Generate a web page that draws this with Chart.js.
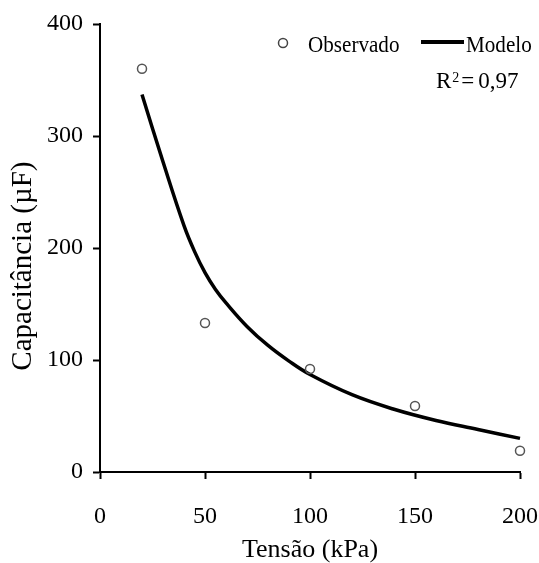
<!DOCTYPE html>
<html>
<head>
<meta charset="utf-8">
<script src="https://cdn.jsdelivr.net/npm/chart.js@4"></script>
<style>
  body { margin: 0; background: #fff; }
  #wrap { width: 539px; height: 563px; }
</style>
</head>
<body>
<div id="wrap"><canvas id="grafico"></canvas></div>
<script>
// valores
var tensaoObs = [20, 50, 100, 150, 200];
var capacitanciaObs = [360, 133, 92, 59, 19];

var tensaoModelo = [20, 30, 40, 45, 50, 55, 60, 70, 80, 90, 100, 120, 140, 160, 180, 200];
var capacitanciaModelo = [337, 277, 220, 197, 178, 163, 151, 130, 113, 99, 87, 69, 56, 46, 38, 30];

var xTicks = [0, 50, 100, 150, 200];
var yTicks = [0, 100, 200, 300, 400];

var serif = "'Liberation Serif', 'Times New Roman', serif";

function pontos(xs, ys) {
  return xs.map(function (x, i) {
    return { x: x, y: ys[i] };
  });
}

// legenda e R2 desenhados no canto superior direito
var legendaPlugin = {
  id: "legenda",
  afterDraw: function (chart) {
    var ctx = chart.ctx;
    ctx.save();
    ctx.fillStyle = "#000";
    ctx.textBaseline = "alphabetic";

    ctx.beginPath();
    ctx.arc(283, 43, 4.5, 0, Math.PI * 2);
    ctx.strokeStyle = "#444";
    ctx.lineWidth = 1.5;
    ctx.stroke();

    ctx.font = "24px " + serif;
    ctx.save();
    ctx.translate(308, 52);
    ctx.scale(0.88, 1);
    ctx.fillText("Observado", 0, 0);
    ctx.restore();

    ctx.beginPath();
    ctx.moveTo(421, 42);
    ctx.lineTo(464, 42);
    ctx.strokeStyle = "#000";
    ctx.lineWidth = 4;
    ctx.stroke();

    ctx.save();
    ctx.translate(466, 52);
    ctx.scale(0.88, 1);
    ctx.fillText("Modelo", 0, 0);
    ctx.restore();

    // R² = 0,97
    ctx.font = "23px " + serif;
    var x = 436;
    ctx.fillText("R", x, 88);
    x += ctx.measureText("R").width + 1;
    ctx.font = "14px " + serif;
    ctx.fillText("2", x, 82);
    x += ctx.measureText("2").width + 2;
    ctx.font = "23px " + serif;
    ctx.fillText("=", x, 88);
    x += ctx.measureText("=").width + 4;
    ctx.fillText("0,97", x, 88);
    ctx.restore();
  },
};

var ctx = document.getElementById("grafico").getContext("2d");
var myChart = new Chart(ctx, {
  type: "scatter",
  data: {
    datasets: [
      {
        label: "Observado",
        data: pontos(tensaoObs, capacitanciaObs),
        pointStyle: "circle",
        pointRadius: 4.5,
        pointBorderWidth: 1.5,
        pointBorderColor: "#555",
        pointBackgroundColor: "rgba(255,255,255,0)",
        showLine: false,
        clip: false,
      },
      {
        label: "Modelo",
        data: pontos(tensaoModelo, capacitanciaModelo),
        showLine: true,
        borderColor: "#000",
        borderWidth: 3.5,
        pointRadius: 0,
        tension: 0.4,
        clip: false,
      },
    ],
  },
  plugins: [legendaPlugin],
  options: {
    responsive: true,
    maintainAspectRatio: false,
    animation: false,
    layout: { padding: { top: 24, right: 19, left: 0, bottom: 0 } },
    plugins: {
      legend: { display: false },
      tooltip: { enabled: false },
    },
    scales: {
      x: {
        type: "linear",
        min: 0,
        max: 200,
        afterBuildTicks: function (scale) {
          scale.ticks = xTicks.map(function (v) { return { value: v }; });
        },
        afterFit: function (scale) {
          scale.height = 91;
          scale.paddingLeft = 0;
          scale.paddingRight = 0;
        },
        grid: { drawOnChartArea: false, drawTicks: true, tickLength: 7, tickWidth: 2, tickColor: "#000" },
        border: { display: true, color: "#000", width: 2 },
        ticks: { color: "#000", padding: 23, maxRotation: 0, font: { family: serif, size: 24 } },
        title: {
          display: true,
          text: "Tensão (kPa)",
          color: "#000",
          padding: { top: 0, bottom: 0 },
          font: { family: serif, size: 26, lineHeight: 1 },
        },
      },
      y: {
        type: "linear",
        min: 0,
        max: 400,
        afterBuildTicks: function (scale) {
          scale.ticks = yTicks.map(function (v) { return { value: v }; });
        },
        afterFit: function (scale) {
          scale.width = 100;
          scale.paddingTop = 0;
          scale.paddingBottom = 0;
        },
        grid: { drawOnChartArea: false, drawTicks: true, tickLength: 7, tickWidth: 2, tickColor: "#000" },
        border: { display: true, color: "#000", width: 2 },
        ticks: { color: "#000", padding: 10, font: { family: serif, size: 24 } },
        title: {
          display: true,
          text: "Capacitância (µF)     ",
          color: "#000",
          padding: { top: 9, bottom: 0 },
          font: { family: serif, size: 29, lineHeight: 1 },
        },
      },
    },
  },
});
</script>
</body>
</html>
